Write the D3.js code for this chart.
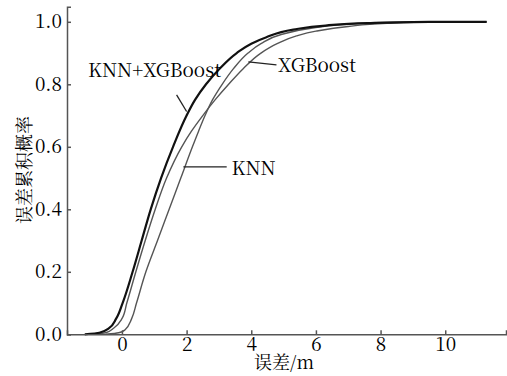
<!DOCTYPE html>
<html>
<head>
<meta charset="utf-8">
<script src="https://cdn.jsdelivr.net/npm/d3@7"></script>
<style>
  html, body { margin: 0; padding: 0; background: #fff; }
</style>
</head>
<body>
<svg id="chart" width="507" height="376"></svg>
<script>
// Liberation Serif switches to sans at >= 18px here, so the serif CJK face is used for all text
const FONT = 'Noto Serif CJK SC';

// cumulative probability levels and the error (m) read for each model
const comboCdf = [0, 0.005, 0.02, 0.05, 0.1, 0.2, 0.3, 0.4, 0.5, 0.6, 0.7, 0.75, 0.8, 0.85, 0.9, 0.93, 0.95, 0.975, 0.988, 0.996, 1.0, 1.0];
const comboErr = [-1.15, -0.7, -0.4, -0.18, 0.02, 0.33, 0.61, 0.89, 1.21, 1.58, 2.0, 2.26, 2.6, 3.02, 3.55, 4.0, 4.45, 5.3, 6.3, 7.6, 9.5, 11.28];

const xgbCdf = [0, 0.005, 0.02, 0.05, 0.1, 0.2, 0.3, 0.4, 0.5, 0.6, 0.65, 0.7, 0.75, 0.8, 0.85, 0.9, 0.93, 0.955, 0.97, 0.985, 0.995, 1.0, 1.0];
const xgbErr = [-1.0, -0.5, -0.25, 0.0, 0.15, 0.43, 0.72, 1.03, 1.38, 1.85, 2.15, 2.5, 2.88, 3.3, 3.75, 4.3, 4.8, 5.4, 6.0, 7.0, 8.2, 9.8, 11.28];

const knnCdf = [0, 0.005, 0.014, 0.05, 0.1, 0.2, 0.3, 0.4, 0.5, 0.6, 0.65, 0.7, 0.75, 0.8, 0.85, 0.9, 0.93, 0.96, 0.98, 0.993, 0.999, 1.0];
const knnErr = [-0.5, -0.1, 0.09, 0.3, 0.45, 0.74, 1.1, 1.46, 1.82, 2.18, 2.37, 2.57, 2.8, 3.1, 3.45, 3.9, 4.3, 4.95, 5.9, 7.1, 8.5, 11.28];

const xTicks = [0, 2, 4, 6, 8, 10];
const yTicks = [0, 0.2, 0.4, 0.6, 0.8, 1.0];

const svg = d3.select('#chart');

const x = d3.scaleLinear().domain([-1.7, 11.88]).range([67, 506]);
const y = d3.scaleLinear().domain([0, 1.048]).range([334.3, 6.8]);

// curves
const series = [
    { name: 'XGBoost', err: xgbErr, cdf: xgbCdf, color: '#555', width: 1.4 },
    { name: 'KNN', err: knnErr, cdf: knnCdf, color: '#555', width: 1.4 },
    { name: 'KNN+XGBoost', err: comboErr, cdf: comboCdf, color: '#111', width: 2.2 }
];

const line = d3.line()
    .x(d => x(d[0]))
    .y(d => y(d[1]))
    .curve(d3.curveMonotoneY);

series.forEach(s => {
    svg.append('path')
        .datum(d3.zip(s.err, s.cdf))
        .attr('fill', 'none')
        .attr('stroke', s.color)
        .attr('stroke-width', s.width)
        .attr('stroke-linejoin', 'round')
        .attr('d', line);
});

// axes
const xAxis = svg.append('g')
    .attr('transform', `translate(0,${y(0)})`)
    .call(d3.axisBottom(x).tickValues(xTicks).tickSize(-4).tickSizeOuter(-4).tickPadding(3));

const yAxis = svg.append('g')
    .attr('transform', `translate(${x.range()[0]},0)`)
    .call(d3.axisLeft(y).tickValues(yTicks).tickFormat(d3.format('.1f')).tickSize(-4).tickSizeOuter(-4).tickPadding(5));

[xAxis, yAxis].forEach(g => {
    g.attr('font-family', FONT).attr('font-size', 19);
    g.selectAll('path, line').attr('stroke', '#555').attr('stroke-width', 1.5);
    g.selectAll('text').attr('fill', '#000');
});

// axis titles
svg.append('text')
    .attr('x', 284)
    .attr('y', 369)
    .attr('text-anchor', 'middle')
    .attr('font-family', FONT)
    .attr('font-size', 18)
    .text('误差/m');

svg.append('text')
    .attr('transform', 'translate(31,170) rotate(-90)')
    .attr('text-anchor', 'middle')
    .attr('font-family', FONT)
    .attr('font-size', 18)
    .text('误差累积概率');

// curve labels with leader lines (data coordinates)
const labels = [
    { text: 'KNN+XGBoost', tx: -1.05, ty: 0.824, from: [1.69, 0.766], to: [2.0, 0.713] },
    { text: 'XGBoost', tx: 4.83, ty: 0.839, from: [4.78, 0.862], to: [3.91, 0.872] },
    { text: 'KNN', tx: 3.39, ty: 0.51, from: [3.24, 0.536], to: [1.9, 0.536] }
];

labels.forEach(l => {
    svg.append('line')
        .attr('x1', x(l.from[0])).attr('y1', y(l.from[1]))
        .attr('x2', x(l.to[0])).attr('y2', y(l.to[1]))
        .attr('stroke', '#222')
        .attr('stroke-width', 1.3);
    svg.append('text')
        .attr('x', x(l.tx))
        .attr('y', y(l.ty))
        .attr('font-family', FONT)
        .attr('font-size', 19)
        .attr('fill', '#000')
        .text(l.text);
});
</script>
</body>
</html>
